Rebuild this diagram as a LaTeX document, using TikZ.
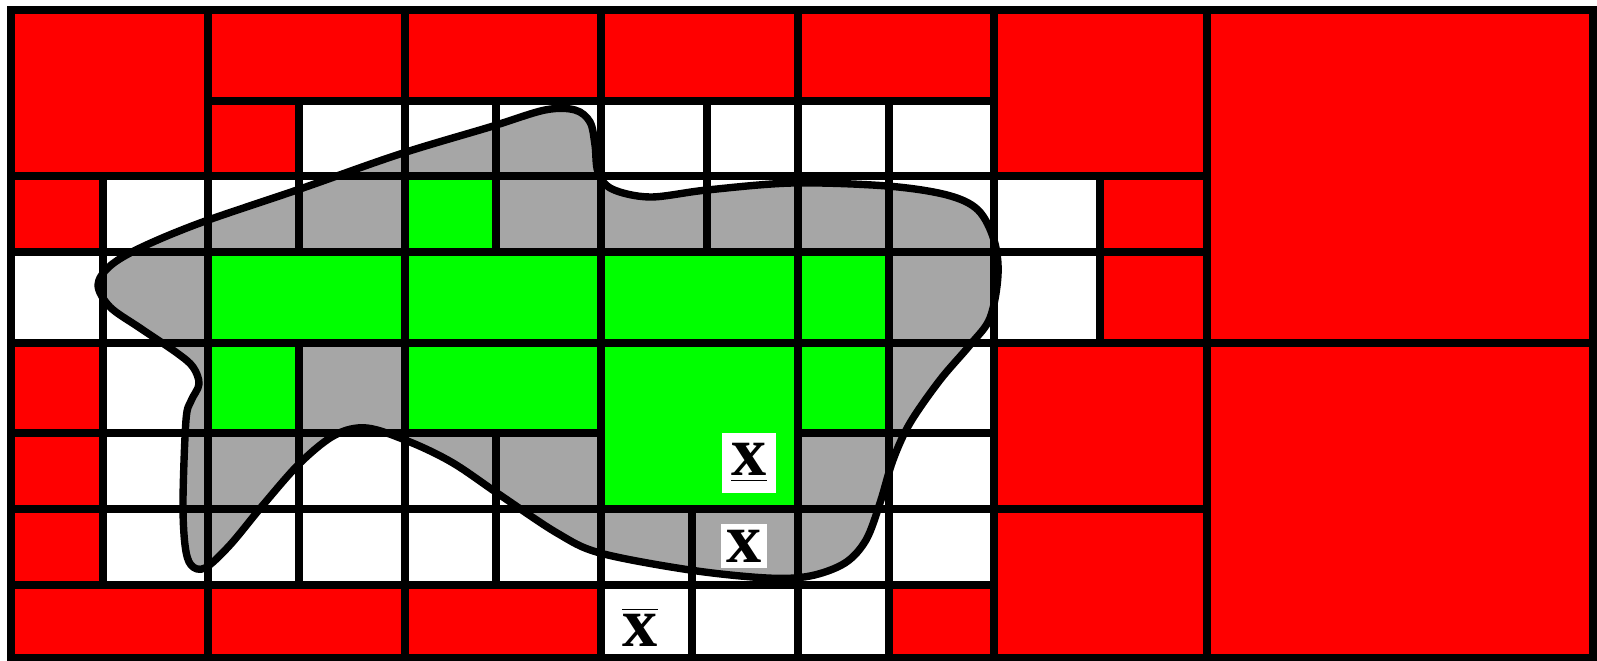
\documentclass[tikz,border=0pt]{standalone}
\usepackage{fontspec}
\setmainfont{Liberation Serif}
\definecolor{blobgray}{RGB}{166,166,166}
\begin{document}
\begin{tikzpicture}[x=0.01cm, y=-0.01cm,
  cell/.style={draw=black, line width=2.1pt},
  redcell/.style={cell, fill=red},
  greencell/.style={cell, fill=green},
  whitecell/.style={cell},
  region/.style={fill=blobgray, draw=black, line width=2.1pt, line join=round},
  symbolbox/.style={fill=white, inner sep=0pt, font=\fontsize{20}{24}\selectfont\bfseries}]
\useasboundingbox (0,0) rectangle (1597,661);
\fill[white] (0,0) rectangle (1597,661);
\filldraw[region] plot[smooth cycle, tension=0.55] coordinates {
  (98,285) (110,266) (140,248) (200,223) (300,189) (400,154) (490,127)
  (545,110) (575,110) (590,122) (595,145) (598,172) (612,189) (650,197) (707,190)
  (793,183) (887,186) (947,195) (978,210) (994,240) (998,275) (990,318)
  (970,345) (940,380) (910,423) (893,460) (880,503) (866,540) (845,563)
  (810,576) (767,578) (690,570) (600,553) (557,533) (500,495)
  (453,463) (410,442) (367,428) (335,435) (300,463) (263,505) (230,545)
  (205,568) (191,565) (185,545) (183,500) (186,420) (191,401) (199,384)
  (193,367) (177,353) (140,328) (110,307)};
\foreach \xa/\ya/\xb/\yb in {11/10/208/176, 208/10/405/101, 405/10/601/101, 601/10/798/101,
  798/10/994/101, 994/10/1207/176, 1207/10/1593/343, 208/101/299/176, 11/176/103/252,
  1100/176/1207/252, 1100/252/1207/343, 11/343/103/433, 11/433/103/509, 11/509/103/585,
  994/343/1207/509, 994/509/1207/658, 1207/343/1593/658, 11/585/208/658, 208/585/405/658,
  405/585/601/658, 889/585/994/658}
  \draw[redcell] (\xa,\ya) rectangle (\xb,\yb);
\foreach \xa/\ya/\xb/\yb in {405/176/496/252, 208/252/405/343, 405/252/601/343, 601/252/798/343,
  798/252/889/343, 208/343/299/433, 405/343/601/433, 601/343/798/509, 798/343/889/433}
  \draw[greencell] (\xa,\ya) rectangle (\xb,\yb);
\foreach \xa/\ya/\xb/\yb in {299/101/405/176, 405/101/496/176, 496/101/601/176, 601/101/707/176,
  707/101/798/176, 798/101/889/176, 889/101/994/176,
  103/176/208/252, 208/176/299/252, 299/176/405/252, 496/176/601/252, 601/176/707/252,
  707/176/798/252, 798/176/889/252, 889/176/994/252, 994/176/1100/252,
  11/252/103/343, 103/252/208/343, 889/252/994/343, 994/252/1100/343,
  103/343/208/433, 299/343/405/433, 889/343/994/433,
  103/433/208/509, 208/433/299/509, 299/433/405/509, 405/433/496/509, 496/433/601/509,
  798/433/889/509, 889/433/994/509,
  103/509/208/585, 208/509/299/585, 299/509/405/585, 405/509/496/585, 496/509/601/585,
  601/509/692/585, 692/509/798/585, 798/509/889/585, 889/509/994/585,
  601/585/692/658, 692/585/798/658, 798/585/889/658}
  \draw[whitecell] (\xa,\ya) rectangle (\xb,\yb);
\node[symbolbox, minimum width=0.54cm, minimum height=0.59cm] (under) at (749,463) {\underline{x}};
\node[symbolbox, minimum width=0.45cm, minimum height=0.44cm] (plain) at (744,546) {x};
\node[symbolbox, fill=none] (over) at (640,627) {$\overline{\hbox{x}}$};
\end{tikzpicture}
\end{document}
